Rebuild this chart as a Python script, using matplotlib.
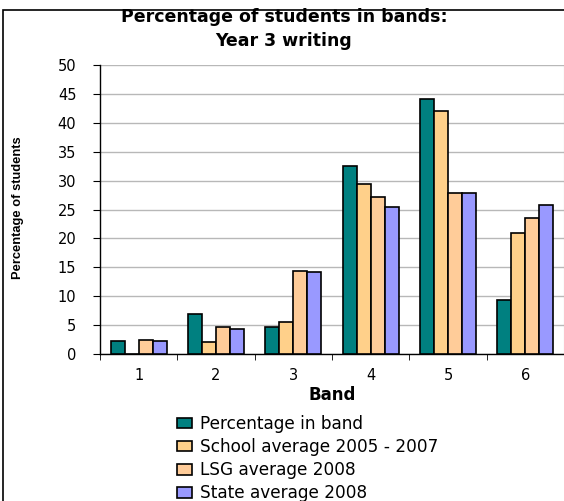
import numpy as np
import matplotlib
matplotlib.use("Agg")
import matplotlib.pyplot as plt
from matplotlib.patches import Rectangle

plt.rcParams['font.family'] = ['DejaVu Sans']

# data
bands = ['1', '2', '3', '4', '5', '6']
pct_in_band = [2.3, 7.0, 4.7, 32.6, 44.2, 9.3]
school_avg = [0.0, 2.1, 5.6, 29.4, 42.0, 21.0]
lsg_avg = [2.5, 4.7, 14.4, 27.1, 27.9, 23.6]
state_avg = [2.3, 4.3, 14.2, 25.5, 27.9, 25.7]

series = [
    ('Percentage in band', pct_in_band, '#008080'),
    ('School average 2005 - 2007', school_avg, '#FFD08A'),
    ('LSG average 2008', lsg_avg, '#FFCC99'),
    ('State average 2008', state_avg, '#9999FF'),
]

fig = plt.figure(figsize=(5.64, 5.01), dpi=100)
ax = fig.add_axes([100 / 564, 1 - 354 / 501, 464 / 564, 289 / 501])

# outer chart border
fig.patches.append(Rectangle((3 / 564, -0.05), 1.1, 1 - 10 / 501 + 0.05,
                             transform=fig.transFigure, fill=False,
                             edgecolor='black', linewidth=1.2))

x = np.arange(len(bands))
w = 0.18
for i, (name, vals, col) in enumerate(series):
    ax.bar(x + (i - 1.5) * w, vals, w, color=col, edgecolor='black',
           linewidth=1.2, label=name, zorder=3)

ax.set_xlim(-0.5, len(bands) - 0.5)
ax.set_ylim(0, 50)
ax.set_yticks(range(0, 51, 5))
ax.set_xticks(x)
ax.set_xticklabels(bands)
ax.set_xticks(np.arange(-0.5, len(bands), 1), minor=True)
ax.tick_params(axis='x', which='major', length=0, labelsize=10.5, pad=10)
ax.tick_params(axis='x', which='minor', length=4, direction='out')
ax.tick_params(axis='y', length=5, direction='out', labelsize=10.5, pad=12)
ax.yaxis.grid(True, color='#B8B8B8', linewidth=1.0, zorder=0)
ax.spines['top'].set_visible(False)
ax.spines['right'].set_color('#B8B8B8')
ax.spines['left'].set_linewidth(1.0)
ax.spines['bottom'].set_linewidth(1.0)

ax.set_xlabel('Band', fontsize=12, fontweight='bold', labelpad=2)
fig.text(18 / 564, 1 - 208 / 501, 'Percentage of students', rotation=90,
         fontsize=9.3, fontweight='bold', ha='center', va='center',
         family=['Liberation Sans', 'DejaVu Sans'])

fig.text(284 / 564, 1 - 29 / 501, 'Percentage of students in bands:\nYear 3 writing',
         ha='center', va='center', fontsize=12.5, fontweight='bold',
         linespacing=1.4)

ax.legend(loc='upper left', bbox_to_anchor=(177 / 564, 1 - 415 / 501),
          bbox_transform=fig.transFigure, frameon=False, fontsize=12.2,
          handlelength=0.9, handleheight=0.6, handletextpad=0.45,
          labelspacing=0.3, borderaxespad=0, borderpad=0)

fig.savefig('out.png', dpi=100)
